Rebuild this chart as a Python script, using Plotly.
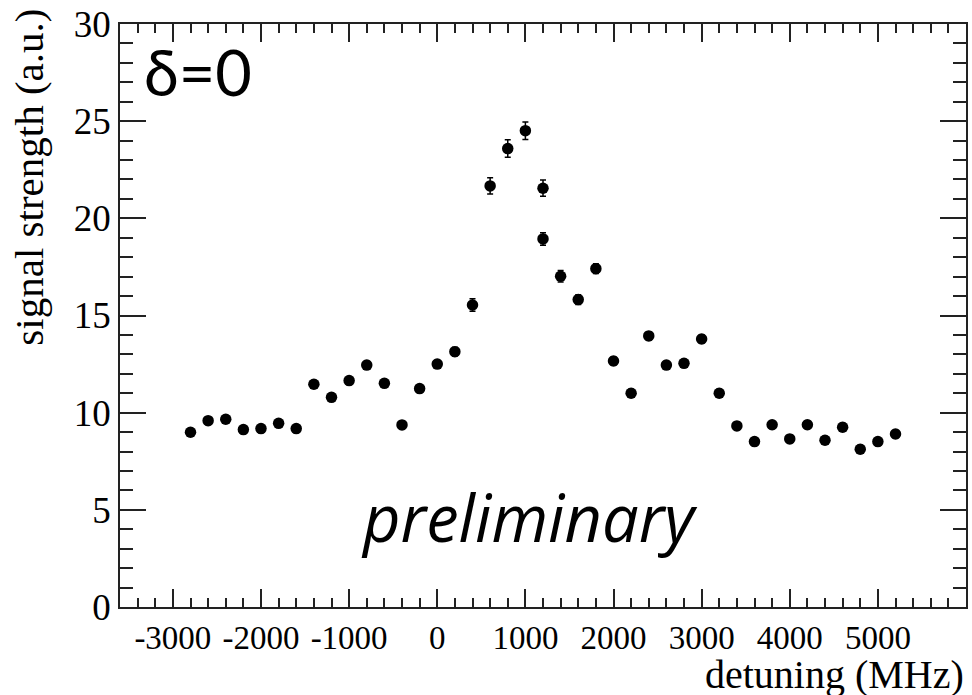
import plotly.graph_objects as go

detuning = [-2800, -2600, -2400, -2200, -2000, -1800, -1600, -1400, -1200, -1000,
            -800, -600, -400, -200, 0, 200, 400, 600, 800, 1000,
            1200, 1200, 1400, 1600, 1800, 2000, 2200, 2400, 2600, 2800,
            3000, 3200, 3400, 3600, 3800, 4000, 4200, 4400, 4600, 4800, 5000, 5200]
signal = [8.99, 9.59, 9.66, 9.13, 9.18, 9.45, 9.18, 11.46, 10.79, 11.65,
          12.45, 11.51, 9.37, 11.24, 12.5, 13.14, 15.54, 21.67, 23.59, 24.51,
          21.55, 18.94, 17.02, 15.82, 17.41, 12.66, 11.0, 13.95, 12.45, 12.54,
          13.79, 11.0, 9.32, 8.51, 9.38, 8.65, 9.38, 8.58, 9.25, 8.12, 8.51, 8.9]
signal_err = [0.2, 0.2, 0.2, 0.2, 0.2, 0.2, 0.2, 0.2, 0.2, 0.2,
              0.2, 0.2, 0.2, 0.2, 0.2, 0.22, 0.32, 0.42, 0.45, 0.45,
              0.42, 0.32, 0.3, 0.25, 0.25, 0.22, 0.2, 0.22, 0.2, 0.2,
              0.22, 0.2, 0.2, 0.2, 0.2, 0.2, 0.2, 0.2, 0.2, 0.2, 0.2, 0.2]

x_tickvals = [-3000, -2000, -1000, 0, 1000, 2000, 3000, 4000, 5000]
x_ticktext = ["-3000", "-2000", "-1000", "0", "1000", "2000", "3000", "4000", "5000"]
y_tickvals = [0, 5, 10, 15, 20, 25, 30]
y_ticktext = ["0", "5", "10", "15", "20", "25", "30"]

fig = go.Figure()
fig.add_trace(go.Scatter(
    x=detuning, y=signal, mode="markers",
    marker=dict(color="black", size=11.5, symbol="circle"),
    error_y=dict(type="data", array=signal_err, color="black", thickness=1.5, width=3),
    showlegend=False,
))

serif = "Liberation Serif, Times New Roman, serif"
tickc = "#222222"
fig.update_layout(
    width=972, height=695,
    margin=dict(l=120, r=4, t=24, b=88),
    paper_bgcolor="white", plot_bgcolor="white",
    xaxis=dict(
        range=[-3600, 6000], tickmode="array", tickvals=x_tickvals, ticktext=x_ticktext,
        ticks="inside", ticklen=18, tickwidth=1.6, tickcolor=tickc,
        minor=dict(tickmode="linear", tick0=0, dtick=200, ticks="inside", ticklen=9,
                   tickwidth=1.6, tickcolor=tickc),
        showline=True, linecolor=tickc, linewidth=1.8, mirror="ticks",
        showgrid=False, zeroline=False,
        tickfont=dict(family=serif, size=33, color="black"),
    ),
    yaxis=dict(
        range=[0, 30], tickmode="array", tickvals=y_tickvals, ticktext=y_ticktext,
        ticks="inside", ticklen=26, tickwidth=1.6, tickcolor=tickc,
        minor=dict(tickmode="linear", tick0=0, dtick=1, ticks="inside", ticklen=13,
                   tickwidth=1.6, tickcolor=tickc),
        showline=True, linecolor=tickc, linewidth=1.8, mirror="ticks",
        showgrid=False, zeroline=False,
        tickfont=dict(family=serif, size=37, color="black"),
    ),
    annotations=[
        dict(text="detuning (MHz)", xref="paper", yref="paper", x=1.0, y=-0.115,
             xanchor="right", yanchor="middle", showarrow=False,
             font=dict(family=serif, size=40, color="black")),
        dict(text="signal strength (a.u.)", xref="paper", yref="paper", x=-0.108, y=1.03,
             xanchor="center", yanchor="top", textangle=-90, showarrow=False,
             font=dict(family=serif, size=41, color="black")),
        dict(text="δ=0", xref="paper", yref="paper", x=0.026, y=0.918,
             xanchor="left", yanchor="middle", showarrow=False,
             font=dict(family="Lato, Open Sans, sans-serif", size=63, color="black")),
        dict(text="<i>preliminary</i>", xref="paper", yref="paper", x=0.484, y=0.155,
             xanchor="center", yanchor="middle", showarrow=False,
             font=dict(family="Open Sans, Lato, sans-serif", size=65, color="black")),
    ],
)

fig.write_html("out.html")
